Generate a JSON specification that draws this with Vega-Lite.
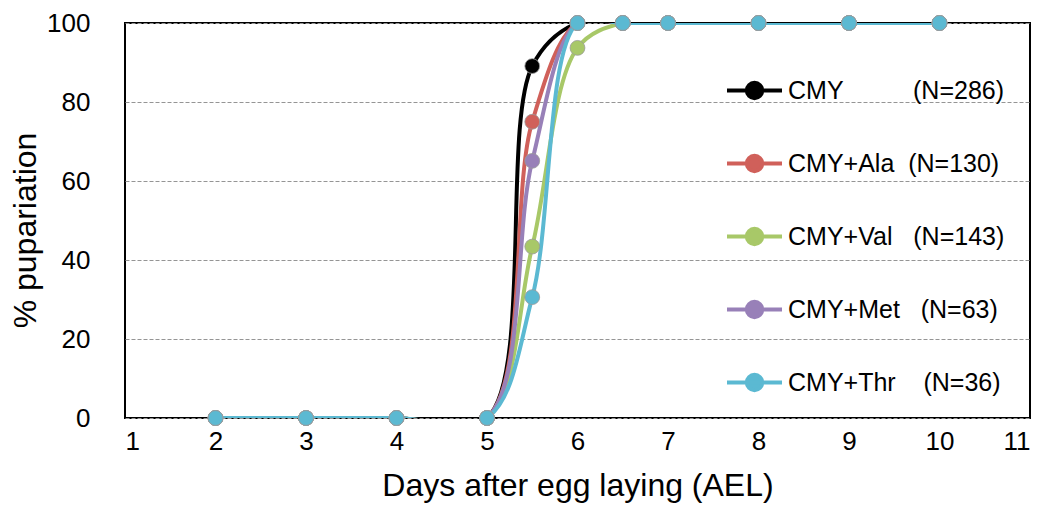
{
  "$schema": "https://vega.github.io/schema/vega-lite/v6.json",
  "autosize": "none",
  "width": 905,
  "height": 395,
  "padding": {"left": 125, "top": 23, "right": 28, "bottom": 101},
  "background": "white",
  "config": {
    "font": "Liberation Sans",
    "view": {"stroke": "#000000", "strokeWidth": 2},
    "axis": {"labelFont": "Liberation Sans", "titleFont": "Liberation Sans", "labelColor": "#000", "titleColor": "#000", "titleFontWeight": "normal"}
  },
  "data": {
    "values": [
      {"series": "CMY", "day": 2, "pct": 0}, {"series": "CMY", "day": 3, "pct": 0}, {"series": "CMY", "day": 4, "pct": 0}, {"series": "CMY", "day": 5, "pct": 0}, {"series": "CMY", "day": 5.5, "pct": 89.1}, {"series": "CMY", "day": 6, "pct": 100}, {"series": "CMY", "day": 6.5, "pct": 100}, {"series": "CMY", "day": 7, "pct": 100}, {"series": "CMY", "day": 8, "pct": 100}, {"series": "CMY", "day": 9, "pct": 100}, {"series": "CMY", "day": 10, "pct": 100},
      {"series": "CMY+Ala", "day": 2, "pct": 0}, {"series": "CMY+Ala", "day": 3, "pct": 0}, {"series": "CMY+Ala", "day": 4, "pct": 0}, {"series": "CMY+Ala", "day": 5, "pct": 0}, {"series": "CMY+Ala", "day": 5.5, "pct": 75}, {"series": "CMY+Ala", "day": 6, "pct": 100}, {"series": "CMY+Ala", "day": 6.5, "pct": 100}, {"series": "CMY+Ala", "day": 7, "pct": 100}, {"series": "CMY+Ala", "day": 8, "pct": 100}, {"series": "CMY+Ala", "day": 9, "pct": 100}, {"series": "CMY+Ala", "day": 10, "pct": 100},
      {"series": "CMY+Val", "day": 2, "pct": 0}, {"series": "CMY+Val", "day": 3, "pct": 0}, {"series": "CMY+Val", "day": 4, "pct": 0}, {"series": "CMY+Val", "day": 5, "pct": 0}, {"series": "CMY+Val", "day": 5.5, "pct": 43.4}, {"series": "CMY+Val", "day": 6, "pct": 93.7}, {"series": "CMY+Val", "day": 6.5, "pct": 100}, {"series": "CMY+Val", "day": 7, "pct": 100}, {"series": "CMY+Val", "day": 8, "pct": 100}, {"series": "CMY+Val", "day": 9, "pct": 100}, {"series": "CMY+Val", "day": 10, "pct": 100},
      {"series": "CMY+Met", "day": 2, "pct": 0}, {"series": "CMY+Met", "day": 3, "pct": 0}, {"series": "CMY+Met", "day": 4, "pct": 0}, {"series": "CMY+Met", "day": 5, "pct": 0}, {"series": "CMY+Met", "day": 5.5, "pct": 65.1}, {"series": "CMY+Met", "day": 6, "pct": 100}, {"series": "CMY+Met", "day": 6.5, "pct": 100}, {"series": "CMY+Met", "day": 7, "pct": 100}, {"series": "CMY+Met", "day": 8, "pct": 100}, {"series": "CMY+Met", "day": 9, "pct": 100}, {"series": "CMY+Met", "day": 10, "pct": 100},
      {"series": "CMY+Thr", "day": 2, "pct": 0}, {"series": "CMY+Thr", "day": 3, "pct": 0}, {"series": "CMY+Thr", "day": 4, "pct": 0}, {"series": "CMY+Thr", "day": 5, "pct": 0}, {"series": "CMY+Thr", "day": 5.5, "pct": 30.6}, {"series": "CMY+Thr", "day": 6, "pct": 100}, {"series": "CMY+Thr", "day": 6.5, "pct": 100}, {"series": "CMY+Thr", "day": 7, "pct": 100}, {"series": "CMY+Thr", "day": 8, "pct": 100}, {"series": "CMY+Thr", "day": 9, "pct": 100}, {"series": "CMY+Thr", "day": 10, "pct": 100}
    ]
  },
  "encoding": {
    "x": {
      "field": "day", "type": "quantitative",
      "scale": {"domain": [1, 11], "nice": false, "zero": false},
      "axis": {"values": [1,2,3,4,5,6,7,8,9,10,11], "title": "Days after egg laying (AEL)", "grid": false, "domain": false, "ticks": false, "labelFontSize": 26, "labelPadding": 10, "titleFontSize": 32, "titlePadding": 16}
    },
    "y": {
      "field": "pct", "type": "quantitative",
      "scale": {"domain": [0, 100], "nice": false},
      "axis": {"values": [0,20,40,60,80,100], "title": "% pupariation", "domain": false, "ticks": false, "labelFontSize": 26, "labelPadding": 35, "titleFontSize": 32, "titlePadding": 4, "titleY": 207, "grid": true, "gridColor": "#959595", "gridDash": [4, 2], "gridWidth": 1}
    },
    "color": {
      "field": "series", "type": "nominal",
      "scale": {"domain": ["CMY", "CMY+Ala", "CMY+Val", "CMY+Met", "CMY+Thr"], "range": ["#000000", "#d0605a", "#a8c868", "#9880b8", "#5bb9d2"]},
      "legend": {
        "title": null, "orient": "none", "legendX": 600, "legendY": 38,
        "symbolType": "M-1,0L1,0M-0.28,0A0.28,0.28,0,1,0,0.28,0A0.28,0.28,0,1,0,-0.28,0Z",
        "symbolSize": 3025, "symbolStrokeWidth": 4, "rowPadding": 27,
        "labelFontSize": 25, "labelFont": "Liberation Sans", "labelColor": "#000", "labelOffset": 4, "labelLimit": 400,
        "labelExpr": "datum.label == 'CMY' ? 'CMY\u00a0\u00a0\u00a0\u00a0\u00a0\u00a0\u00a0\u00a0\u00a0\u00a0(N=286)' : datum.label == 'CMY+Ala' ? 'CMY+Ala\u00a0\u00a0(N=130)' : datum.label == 'CMY+Val' ? 'CMY+Val\u00a0\u00a0\u00a0(N=143)' : datum.label == 'CMY+Met' ? 'CMY+Met\u00a0\u00a0\u00a0(N=63)' : 'CMY+Thr\u00a0\u00a0\u00a0\u00a0(N=36)'",
        "encode": {"symbols": {"update": {"fill": {"scale": "color", "field": "value"}}}}
      }
    },
    "order": {"field": "day", "type": "quantitative"}
  },
  "layer": [
    {"mark": {"type": "line", "interpolate": "catmull-rom", "strokeWidth": 4, "clip": true}},
    {"mark": {"type": "point", "filled": true, "size": 220, "opacity": 1, "stroke": "#9a9a9a", "strokeWidth": 0.8}, "encoding": {"order": null}}
  ]
}
